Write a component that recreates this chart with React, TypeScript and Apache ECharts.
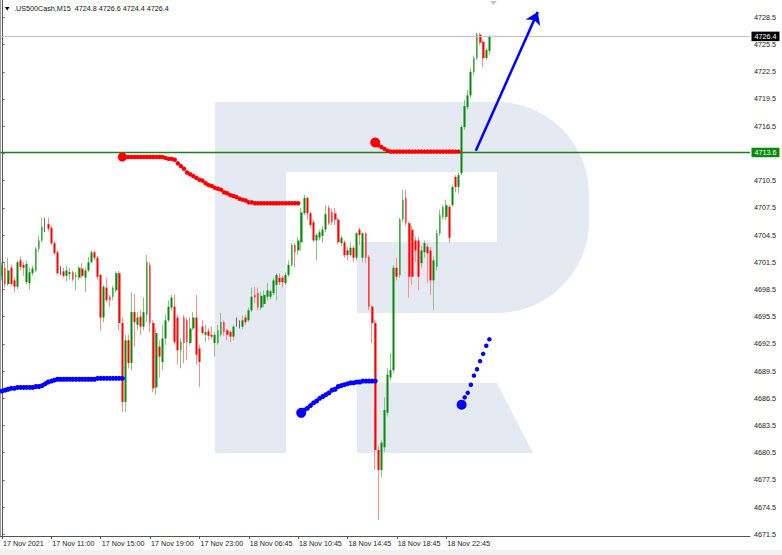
import React, { useEffect, useRef } from "react";
import * as echarts from "echarts";

const TITLE = ".US500Cash,M15  4724.8 4726.6 4724.4 4726.4";
const tickLabels = [
  "17 Nov 2021", "17 Nov 11:00", "17 Nov 15:00", "17 Nov 19:00", "17 Nov 23:00",
  "18 Nov 06:45", "18 Nov 10:45", "18 Nov 14:45", "18 Nov 18:45", "18 Nov 22:45",
];
const BARS_PER_LABEL = 16;
const SLOTS = 243;
const priceLabels = [
  4728.5, 4725.5, 4722.5, 4719.5, 4716.5, 4713.5, 4710.5, 4707.5, 4704.5, 4701.5,
  4698.5, 4695.5, 4692.5, 4689.5, 4686.5, 4683.5, 4680.5, 4677.5, 4674.5, 4671.5,
];
const Y_MIN = 4671.32;
const Y_MAX = 4730.41;
const bidPrice = 4726.4;
const levelPrice = 4713.6;

// [open, close, low, high]
const candles: number[][] = [
  [4700.0, 4701.1, 4699.5, 4701.5], [4700.9, 4699.1, 4698.7, 4701.5], [4699.1, 4700.6, 4698.9, 4702.0],
  [4700.9, 4699.1, 4698.9, 4701.2], [4699.5, 4698.8, 4698.2, 4699.9], [4698.8, 4701.5, 4698.5, 4701.7],
  [4701.7, 4701.0, 4700.6, 4702.1], [4701.2, 4700.9, 4700.0, 4701.5], [4699.3, 4701.3, 4699.1, 4701.7],
  [4699.2, 4700.4, 4698.5, 4700.9], [4700.3, 4700.8, 4700.0, 4701.1], [4700.6, 4703.0, 4700.4, 4703.2],
  [4703.0, 4703.9, 4702.6, 4704.4], [4703.9, 4705.4, 4703.7, 4706.4], [4705.6, 4705.6, 4704.8, 4706.4],
  [4705.7, 4705.2, 4704.9, 4706.4], [4705.3, 4703.6, 4703.4, 4705.5], [4703.6, 4702.5, 4702.3, 4703.8],
  [4702.6, 4700.3, 4700.1, 4702.8], [4700.5, 4700.5, 4700.1, 4701.1], [4700.5, 4700.0, 4699.8, 4700.9],
  [4700.0, 4700.6, 4699.4, 4701.1], [4700.2, 4700.4, 4699.6, 4700.9], [4700.4, 4699.6, 4699.4, 4700.6],
  [4699.9, 4700.1, 4698.4, 4700.4], [4699.8, 4700.9, 4699.5, 4701.1], [4700.8, 4700.0, 4699.8, 4701.4],
  [4699.8, 4700.6, 4698.2, 4700.9], [4700.6, 4701.5, 4700.4, 4702.1], [4701.5, 4702.6, 4701.4, 4702.8],
  [4702.6, 4702.0, 4701.7, 4702.8], [4702.0, 4699.9, 4699.6, 4702.2], [4700.1, 4695.4, 4694.0, 4700.2],
  [4695.4, 4698.8, 4694.9, 4699.0], [4698.7, 4697.3, 4697.1, 4699.8], [4697.7, 4697.3, 4696.6, 4697.9],
  [4697.7, 4698.7, 4697.3, 4698.9], [4698.4, 4700.3, 4698.2, 4700.5], [4700.3, 4694.8, 4694.0, 4700.6],
  [4694.8, 4686.1, 4685.0, 4695.4], [4686.1, 4692.9, 4685.0, 4693.5], [4692.9, 4690.4, 4689.8, 4693.5],
  [4690.4, 4696.0, 4689.6, 4698.2], [4696.0, 4694.9, 4692.2, 4698.0], [4694.6, 4695.4, 4694.0, 4696.0],
  [4695.5, 4694.4, 4693.5, 4696.2], [4694.4, 4696.0, 4694.0, 4697.6], [4695.7, 4701.5, 4694.9, 4702.3],
  [4701.2, 4694.8, 4693.8, 4701.5], [4694.8, 4687.6, 4687.2, 4695.1], [4687.7, 4693.7, 4686.9, 4694.2],
  [4692.2, 4691.1, 4688.8, 4692.9], [4690.5, 4693.1, 4689.6, 4694.6], [4693.1, 4695.1, 4692.4, 4695.7],
  [4695.1, 4696.6, 4694.9, 4697.3], [4696.5, 4697.6, 4696.2, 4697.9], [4696.6, 4692.7, 4692.4, 4697.9],
  [4695.4, 4691.8, 4690.2, 4695.7], [4691.8, 4692.7, 4689.8, 4693.1], [4695.4, 4692.6, 4690.4, 4695.7],
  [4695.1, 4692.7, 4690.7, 4695.4], [4692.6, 4694.2, 4692.4, 4695.4], [4694.2, 4695.4, 4694.0, 4696.0],
  [4695.4, 4691.3, 4690.2, 4697.9], [4692.0, 4690.5, 4687.7, 4692.4], [4694.4, 4693.7, 4693.5, 4695.1],
  [4693.5, 4693.8, 4692.7, 4694.6], [4693.9, 4693.4, 4692.9, 4694.2], [4693.5, 4693.3, 4693.0, 4694.4],
  [4692.6, 4693.5, 4691.1, 4693.8], [4692.6, 4694.0, 4692.4, 4694.6], [4693.5, 4694.9, 4693.3, 4695.9],
  [4694.9, 4693.8, 4693.4, 4695.1], [4694.0, 4693.5, 4692.9, 4694.2], [4693.8, 4693.3, 4692.7, 4694.0],
  [4693.3, 4694.4, 4692.9, 4694.6], [4694.9, 4694.9, 4694.4, 4695.4], [4694.6, 4694.6, 4694.2, 4695.1],
  [4694.4, 4695.1, 4694.1, 4695.6], [4695.4, 4694.9, 4694.6, 4695.7], [4695.1, 4696.2, 4694.9, 4696.5],
  [4696.2, 4697.7, 4696.0, 4698.7], [4697.9, 4697.6, 4697.0, 4698.8], [4698.1, 4696.5, 4696.2, 4698.7],
  [4696.5, 4697.8, 4696.2, 4698.2], [4696.9, 4697.9, 4696.6, 4698.4], [4697.7, 4698.4, 4697.3, 4699.2],
  [4697.7, 4698.3, 4697.4, 4698.5], [4698.1, 4699.5, 4697.9, 4699.8], [4699.0, 4700.1, 4697.3, 4700.3],
  [4699.8, 4699.3, 4699.0, 4700.3], [4699.8, 4699.3, 4698.7, 4700.0], [4699.2, 4700.1, 4699.0, 4700.4],
  [4700.1, 4701.2, 4699.9, 4701.7], [4701.2, 4703.4, 4701.0, 4703.6], [4703.4, 4702.6, 4700.9, 4703.6],
  [4702.8, 4703.9, 4702.3, 4704.3], [4703.7, 4707.0, 4702.8, 4707.5], [4706.9, 4708.6, 4706.7, 4708.9],
  [4708.6, 4706.9, 4706.2, 4708.7], [4706.9, 4705.6, 4705.3, 4707.1], [4705.9, 4703.9, 4703.7, 4706.2],
  [4703.9, 4704.5, 4701.7, 4704.7], [4704.2, 4704.8, 4703.9, 4705.1], [4704.4, 4705.1, 4703.6, 4705.5],
  [4705.1, 4706.8, 4704.8, 4707.8], [4707.5, 4705.8, 4705.6, 4707.8], [4707.0, 4705.9, 4705.6, 4707.4],
  [4706.9, 4706.2, 4705.6, 4707.5], [4706.2, 4703.7, 4703.5, 4706.4], [4703.6, 4704.2, 4703.3, 4704.4],
  [4703.7, 4702.3, 4702.0, 4703.9], [4702.8, 4702.3, 4701.7, 4703.2], [4702.3, 4703.1, 4702.1, 4703.7],
  [4703.1, 4702.0, 4701.5, 4703.3], [4702.0, 4704.7, 4701.7, 4704.8], [4705.1, 4704.5, 4703.4, 4705.3],
  [4702.0, 4704.7, 4701.5, 4704.8], [4704.7, 4702.0, 4701.4, 4704.8], [4702.1, 4696.6, 4696.2, 4702.3],
  [4696.6, 4694.8, 4692.6, 4696.8], [4694.8, 4680.8, 4678.6, 4695.1], [4680.8, 4678.6, 4673.1, 4681.3],
  [4678.6, 4681.6, 4677.8, 4681.9], [4681.1, 4685.2, 4680.6, 4686.6], [4684.9, 4689.1, 4684.5, 4689.8],
  [4688.8, 4689.6, 4688.5, 4691.5], [4689.6, 4700.9, 4689.3, 4701.2], [4700.9, 4699.9, 4699.5, 4702.0],
  [4700.1, 4706.2, 4699.8, 4706.4], [4706.2, 4708.4, 4705.9, 4709.5], [4708.6, 4705.8, 4705.5, 4709.5],
  [4705.8, 4699.9, 4697.6, 4706.0], [4705.1, 4699.9, 4699.0, 4705.5], [4703.9, 4702.8, 4701.5, 4704.3],
  [4703.9, 4699.9, 4698.4, 4704.3], [4701.4, 4702.8, 4700.9, 4703.3], [4702.6, 4703.6, 4702.0, 4703.9],
  [4703.2, 4702.5, 4699.2, 4703.6], [4702.8, 4699.5, 4697.9, 4703.2], [4699.5, 4701.7, 4696.2, 4702.1],
  [4701.0, 4704.7, 4700.6, 4705.1], [4704.7, 4706.7, 4704.4, 4707.3], [4706.5, 4707.6, 4706.2, 4707.8],
  [4706.5, 4707.8, 4706.2, 4708.4], [4707.6, 4704.2, 4703.6, 4707.8], [4707.8, 4709.8, 4707.6, 4710.0],
  [4710.9, 4709.8, 4709.2, 4711.1], [4709.8, 4711.1, 4709.1, 4711.4], [4711.3, 4716.4, 4711.1, 4716.6],
  [4716.4, 4718.7, 4716.1, 4719.4], [4718.6, 4719.9, 4718.3, 4720.5], [4719.9, 4722.5, 4719.6, 4722.9],
  [4722.5, 4724.0, 4722.1, 4724.3], [4724.0, 4726.6, 4723.8, 4726.8], [4726.6, 4725.7, 4725.4, 4726.8],
  [4725.8, 4724.0, 4723.0, 4726.0], [4724.0, 4724.9, 4723.8, 4725.1], [4724.8, 4726.4, 4724.4, 4726.6],
];

// indicator dots: each starts at a bar index
const redAStart = 39;
const redA = [
  4713.1, 4713.1, 4713.1, 4713.1, 4713.1, 4713.1, 4713.1, 4713.1, 4713.1, 4713.1, 4713.1, 4713.1, 4713.1, 4713.1,
  4713.0, 4712.9, 4712.9,
  4712.8, 4712.4, 4712.1, 4711.8, 4711.4, 4711.2, 4711.0, 4710.8, 4710.6, 4710.5, 4710.2, 4710.0, 4709.9,
  4709.7, 4709.6, 4709.5, 4709.2, 4709.1, 4708.9, 4708.8, 4708.7, 4708.5, 4708.4, 4708.3, 4708.1, 4708.1,
  4708.0, 4708.0, 4708.0, 4708.0, 4708.0, 4708.0, 4708.0, 4708.0, 4708.0, 4708.0, 4708.0, 4708.0, 4708.0, 4708.0, 4708.0,
];
const redBStart = 121;
const redB = [
  4714.7, 4714.4, 4714.2, 4714.0, 4713.8,
  4713.7, 4713.7, 4713.7, 4713.7, 4713.7, 4713.7, 4713.7, 4713.7, 4713.7, 4713.7, 4713.7, 4713.7,
  4713.7, 4713.7, 4713.7, 4713.7, 4713.7, 4713.7, 4713.7, 4713.7, 4713.7, 4713.7, 4713.7,
];
const blueAStart = 0;
const blueA = [
  4687.3, 4687.4, 4687.5, 4687.6, 4687.6, 4687.7, 4687.7, 4687.7, 4687.7, 4687.7, 4687.7, 4687.8, 4687.8,
  4687.9, 4688.1, 4688.3, 4688.4, 4688.5, 4688.6,
  4688.6, 4688.6, 4688.6, 4688.6, 4688.6, 4688.6, 4688.6, 4688.6, 4688.6, 4688.6, 4688.6, 4688.6,
  4688.7, 4688.7, 4688.7, 4688.7, 4688.7, 4688.7, 4688.7, 4688.7, 4688.7,
];
const blueBStart = 97;
const blueB = [
  4684.9, 4685.2, 4685.4, 4685.7, 4686.0, 4686.2, 4686.5, 4686.7, 4686.9, 4687.1, 4687.4, 4687.5, 4687.8,
  4687.9, 4688.0, 4688.1, 4688.2, 4688.2, 4688.3, 4688.3, 4688.4, 4688.4, 4688.4, 4688.4, 4688.4,
];
const blueCStart = 149;
const blueC = [4685.8, 4686.6, 4687.1, 4688.0, 4689.0, 4689.7, 4690.6, 4691.4, 4692.3, 4693.0];

// arrow: [bar position, price]
const arrowFrom = [153.6, 4713.8];
const arrowTo = [173.7, 4729.1];

const LOGO_PATH =
  "M215 102 H497 C547.8 102 589 143.2 589 194 V221 C589 271.8 547.8 313 497 313 H357 V242 H497 V172 H286 V453 H215 Z " +
  "M357 383 H497 L533 453 H357 Z";

echarts.graphic.registerShape("logo", echarts.graphic.extendPath(LOGO_PATH, {}));

const FONT = '"Liberation Sans", Arial, sans-serif';
const FS = 7.2;

function dots(start: number, values: number[]) {
  return values.map((v, k) => [start + k, v]);
}

export default function App() {
  const ref = useRef<HTMLDivElement>(null);
  useEffect(() => {
    document.body.style.margin = "0";
    const chart = echarts.init(ref.current!, null, { renderer: "svg" });
    const categories = Array.from({ length: SLOTS }, (_, i) => String(i));
    const labelAt = (i: number) =>
      i % BARS_PER_LABEL === 0 && i / BARS_PER_LABEL < tickLabels.length;
    const bodies = candles.map(([o, c]) => [o, c, Math.min(o, c), Math.max(o, c)]);
    const big = (first: number, rest: number) => (_v: any, p: any) => (p.dataIndex === 0 ? first : rest);

    const priceLabel = (value: number, bg: string) => ({
      show: true,
      position: "end",
      distance: 1.5,
      formatter: () => value.toFixed(1),
      backgroundColor: bg,
      color: "#ffffff",
      fontSize: FS,
      fontFamily: FONT,
      padding: [1.5, 3, 1, 3],
    });

    chart.setOption({
      animation: false,
      backgroundColor: "#ffffff",
      grid: { left: 0, right: 32, top: 0, bottom: 19, containLabel: false },
      xAxis: [
        {
          type: "category",
          data: categories,
          boundaryGap: true,
          axisLine: { show: true, lineStyle: { color: "#555555", width: 1 } },
          axisTick: {
            show: true,
            alignWithLabel: true,
            interval: (i: number) => labelAt(i),
            length: 3,
            lineStyle: { color: "#555555" },
          },
          axisLabel: {
            show: true,
            interval: (i: number) => labelAt(i),
            formatter: (_v: string, i: number) => (labelAt(i) ? tickLabels[i / BARS_PER_LABEL] : ""),
            align: "left",
            margin: 4,
            padding: [0, 0, 0, 1],
            fontSize: FS,
            fontFamily: FONT,
            color: "#1a1a1a",
          },
          splitLine: { show: false },
        },
        { type: "value", min: -0.5, max: SLOTS - 0.5, show: false },
      ],
      yAxis: {
        type: "value",
        position: "right",
        min: Y_MIN,
        max: Y_MAX,
        axisLine: { show: true, lineStyle: { color: "#555555", width: 1 } },
        axisTick: { show: true, length: 2.5, customValues: priceLabels, lineStyle: { color: "#555555" } },
        axisLabel: {
          show: true,
          customValues: priceLabels,
          formatter: (v: number) => v.toFixed(1),
          margin: 4,
          fontSize: FS,
          fontFamily: FONT,
          color: "#1a1a1a",
        },
        splitLine: { show: false },
      },
      graphic: [
        { type: "logo", x: 0, y: 0, z: -10, silent: true, style: { fill: "#e4e9f2" } },
        { type: "rect", silent: true, z: -10, shape: { x: 0, y: 550, width: 782, height: 5 }, style: { fill: "#f0f0f0" } },
        { type: "line", silent: true, shape: { x1: 0.5, y1: 0, x2: 0.5, y2: 536 }, style: { stroke: "#9a9a9a", lineWidth: 1 } },
        { type: "polygon", silent: true, shape: { points: [[490, 1], [497, 1], [493.5, 5]] }, style: { fill: "#c4c4c4" } },
        { type: "polygon", silent: true, shape: { points: [[5, 7], [9.5, 7], [7.25, 10.5]] }, style: { fill: "#000000" } },
        {
          type: "text",
          silent: true,
          x: 14,
          y: 8.8,
          style: { text: TITLE, fontSize: FS, fontFamily: FONT, fill: "#111111", verticalAlign: "middle" },
        },
      ],
      series: [
        {
          name: "wicks",
          type: "candlestick",
          xAxisIndex: 0,
          yAxisIndex: 0,
          data: candles,
          barWidth: 1,
          silent: true,
          itemStyle: {
            color: "#86c486",
            color0: "#ff8c8c",
            borderColor: "#86c486",
            borderColor0: "#ff8c8c",
            borderColorDoji: "#666666",
            borderWidth: 1,
          },
          z: 3,
        },
        {
          name: "bodies",
          type: "candlestick",
          xAxisIndex: 0,
          yAxisIndex: 0,
          data: bodies,
          barWidth: 2.3,
          silent: true,
          itemStyle: {
            color: "#078a07",
            color0: "#ff0000",
            borderColor: "#078a07",
            borderColor0: "#ff0000",
            borderColorDoji: "#555555",
            borderWidth: 0,
          },
          z: 4,
          markLine: {
            silent: true,
            symbol: ["none", "none"],
            data: [
              { yAxis: bidPrice, lineStyle: { color: "#c4c4c4", width: 1, type: "solid" }, label: priceLabel(bidPrice, "#000000") },
              { yAxis: levelPrice, lineStyle: { color: "#1d7f1d", width: 1.3, type: "solid" }, label: priceLabel(levelPrice, "#0a8a0a") },
            ],
          },
        },
        {
          name: "redA", type: "scatter", xAxisIndex: 1, yAxisIndex: 0, silent: true, z: 5,
          data: dots(redAStart, redA), symbolSize: big(9, 4.5), itemStyle: { color: "#ff0000", opacity: 1 },
        },
        {
          name: "redB", type: "scatter", xAxisIndex: 1, yAxisIndex: 0, silent: true, z: 5,
          data: dots(redBStart, redB), symbolSize: big(10, 4.5), itemStyle: { color: "#ff0000", opacity: 1 },
        },
        {
          name: "blueA", type: "scatter", xAxisIndex: 1, yAxisIndex: 0, silent: true, z: 5,
          data: dots(blueAStart, blueA), symbolSize: 5, itemStyle: { color: "#0000ff", opacity: 1 },
        },
        {
          name: "blueB", type: "scatter", xAxisIndex: 1, yAxisIndex: 0, silent: true, z: 5,
          data: dots(blueBStart, blueB), symbolSize: big(10, 5), itemStyle: { color: "#0000ff", opacity: 1 },
        },
        {
          name: "blueC", type: "scatter", xAxisIndex: 1, yAxisIndex: 0, silent: true, z: 5,
          data: dots(blueCStart, blueC), symbolSize: big(10, 4.5), itemStyle: { color: "#0000ff", opacity: 1 },
          markLine: {
            silent: true,
            symbol: ["none", "arrow"],
            symbolSize: 12,
            label: { show: false },
            itemStyle: { color: "#0000ff" },
            lineStyle: { color: "#0000ff", width: 2.5, type: "solid" },
            data: [[{ coord: arrowFrom }, { coord: arrowTo }]],
          },
        },
      ],
    });
    return () => chart.dispose();
  }, []);
  return <div ref={ref} style={{ width: 782, height: 555 }} />;
}
